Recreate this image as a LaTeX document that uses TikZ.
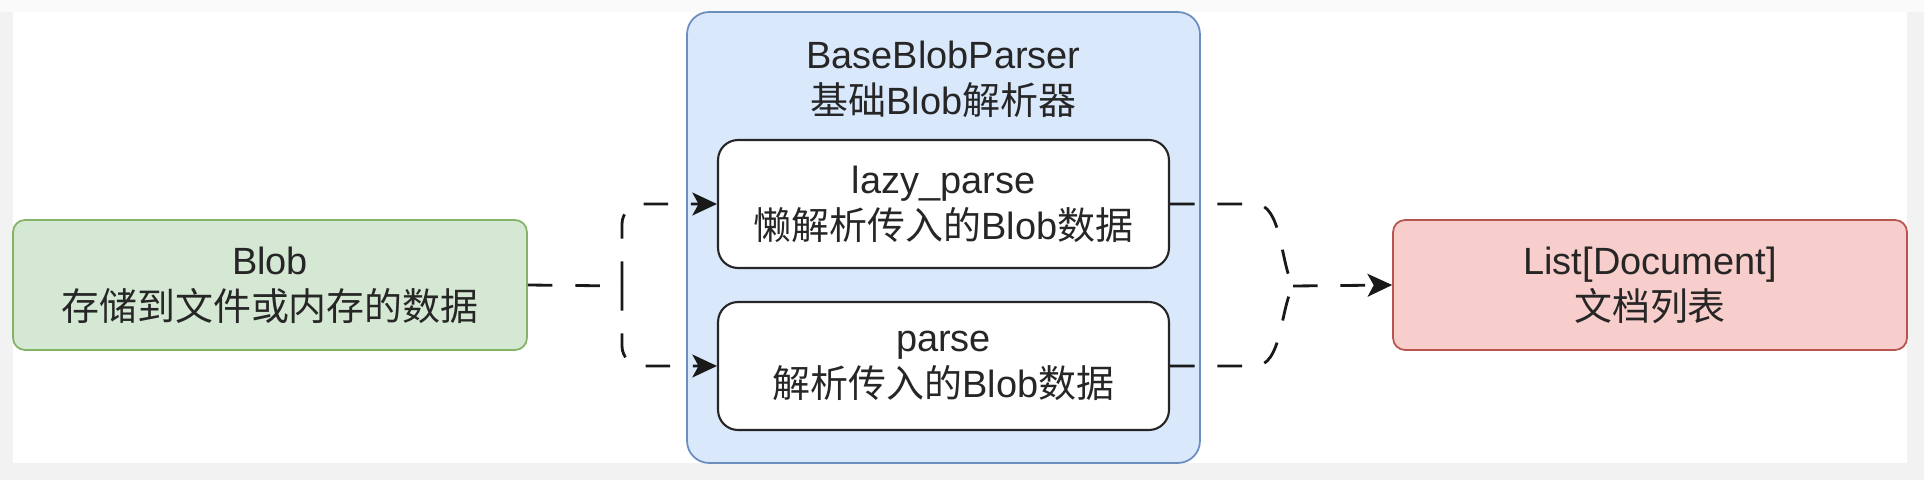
\documentclass[tikz,border=0pt]{standalone}
\usepackage{fontspec}
\setmainfont{Liberation Sans}
\newfontfamily\cjk{Noto Sans CJK SC}
\usepackage{tikz}
\usetikzlibrary{arrows.meta}

\definecolor{blobfill}{HTML}{D5E8D4}
\definecolor{blobedge}{HTML}{82B366}
\definecolor{basefill}{HTML}{DAE8FC}
\definecolor{baseedge}{HTML}{6C8EBF}
\definecolor{docfill}{HTML}{F8CECC}
\definecolor{docedge}{HTML}{B85450}

\begin{document}
\begin{tikzpicture}[
  x=0.02cm, y=-0.02cm,
  font={\fontsize{21.6pt}{26.2pt}\selectfont},
  text=black!85,
  >={Stealth[length=14pt,width=13pt,inset=3.5pt]},
  term/.style={line width=1pt, rounded corners=0.24cm, align=center,
               minimum width=10.28cm, minimum height=2.6cm},
  grp/.style={draw=baseedge, fill=basefill, line width=1pt, rounded corners=0.44cm,
              minimum width=10.26cm, minimum height=9.02cm},
  meth/.style={draw=black!85, fill=white, line width=1.2pt, rounded corners=0.4cm,
               align=center, minimum width=9.02cm, minimum height=2.56cm},
  link/.style={draw=black!90, line width=1.6pt, dash pattern=on 14pt off 13pt}
]
\fill[black!5] (0,0) rectangle (1924,480);
\fill[black!2] (0,0) rectangle (1924,12);
\fill[white] (13,12) rectangle (1907,463);

\node[term, draw=blobedge, fill=blobfill] (blob) at (270,285)
  {Blob\\{\cjk 存储到文件或内存的数据}};
\node[grp] (base) at (943.5,237.5) {};
\node[align=center] (title) at (943.5,79)
  {BaseBlobParser\\{\cjk 基础}Blob{\cjk 解析器}};
\node[meth] (lazy) at (943.5,204) {lazy\_parse\\{\cjk 懒解析传入的}Blob{\cjk 数据}};
\node[meth] (parse) at (943.5,366) {parse\\{\cjk 解析传入的}Blob{\cjk 数据}};
\node[term, draw=docedge, fill=docfill] (docs) at (1650,285)
  {List[Document]\\{\cjk 文档列表}};

\coordinate (lj) at (622,286);
\coordinate (rj) at (1293,286);
\draw[link] (blob.east) -- (lj);
\draw[link, ->, rounded corners=0.4cm] (lj) |- (lazy.west);
\draw[link, ->, rounded corners=0.4cm] (lj) |- (parse.west);
\draw[link] (lazy.east) -- (1255,204) .. controls (1282,204) and (1280,262) .. (rj);
\draw[link] (parse.east) -- (1255,366) .. controls (1282,366) and (1280,310) .. (rj);
\draw[link, ->] (rj) -- (docs.west);
\end{tikzpicture}
\end{document}
